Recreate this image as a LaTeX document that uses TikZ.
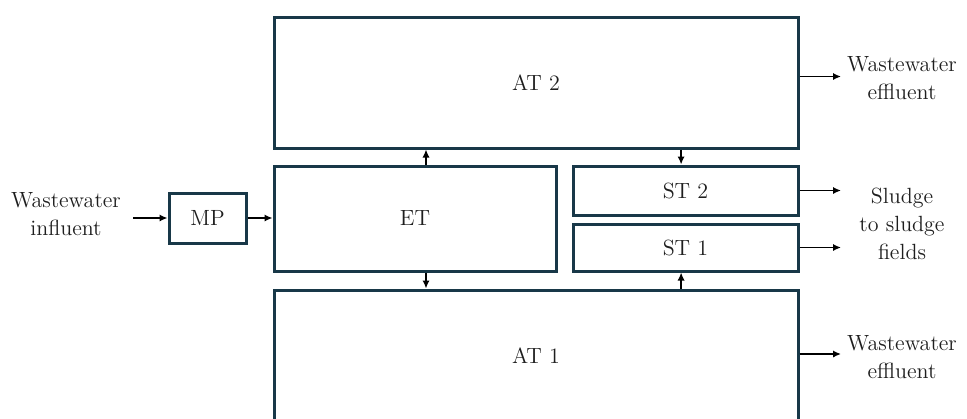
\documentclass[tikz,border=0pt]{standalone}
\usepackage{xcolor}
\usepackage{tikz}
\usetikzlibrary{arrows.meta, positioning}
\definecolor{tankblue}{RGB}{24,56,72}
\definecolor{textgray}{RGB}{30,30,30}

\begin{document}
\begin{tikzpicture}[
          x=0.5pt, y=-0.5pt,
          every node/.style={font=\fontsize{11}{14}\selectfont, text=textgray},
          tank/.style={
            rectangle, draw=tankblue, line width=1.5pt,
            inner sep=0pt, fill=white
          },
          flowtext/.style={align=center, inner sep=1.5pt},
          arrow/.style={
            -{Latex[length=4pt, width=3.6pt]}, line width=0.75pt, color=black
          }
        ]
          \useasboundingbox (0,0) rectangle (967,418);

          % tanks
          \node[tank, minimum width=262pt, minimum height=65.5pt] (at2) at (536,82.5) {AT 2};
          \node[tank, minimum width=141pt, minimum height=52.5pt] (et)  at (415,218.5) {ET};
          \node[tank, minimum width=112.5pt, minimum height=24.5pt] (st2) at (685.5,190.5) {ST 2};
          \node[tank, minimum width=112.5pt, minimum height=23.5pt] (st1) at (685.5,247.5) {ST 1};
          \node[tank, minimum width=262pt, minimum height=66pt] (at1) at (536,356) {AT 1};
          \node[tank, minimum width=38.5pt, minimum height=25pt] (mp)  at (207.5,218) {MP};

          % inflow and outflow labels
          \node[flowtext] (infl)   at (66,214)  {Wastewater\\influent};
          \node[flowtext] (eff2)   at (902,78)  {Wastewater\\effluent};
          \node[flowtext] (sludge) at (902,224) {Sludge\\to sludge\\fields};
          \node[flowtext] (eff1)   at (902,357) {Wastewater\\effluent};
          \coordinate (inx)  at (133,0);
          \coordinate (outx) at (841,0);

          \draw[arrow] (mp.west -| inx) -- (mp.west);
          \draw[arrow] (mp.east) -- (mp.east -| et.west);

          \draw[arrow] ([xshift=5.5pt]et.north) -- ([xshift=5.5pt]et.north |- at2.south);
          \draw[arrow] ([xshift=5.5pt]et.south) -- ([xshift=5.5pt]et.south |- at1.north);
          \draw[arrow] ([xshift=-2.2pt]st2.north |- at2.south) -- ([xshift=-2.2pt]st2.north);
          \draw[arrow] ([xshift=-2.2pt]st1.south |- at1.north) -- ([xshift=-2.2pt]st1.south);

          \draw[arrow] ([yshift=3pt]at2.east) -- ([yshift=3pt]at2.east -| outx);
          \draw[arrow] (st2.east) -- (st2.east -| outx);
          \draw[arrow] (st1.east) -- (st1.east -| outx);
          \draw[arrow] ([yshift=1pt]at1.east) -- ([yshift=1pt]at1.east -| outx);
        \end{tikzpicture}
\end{document}
